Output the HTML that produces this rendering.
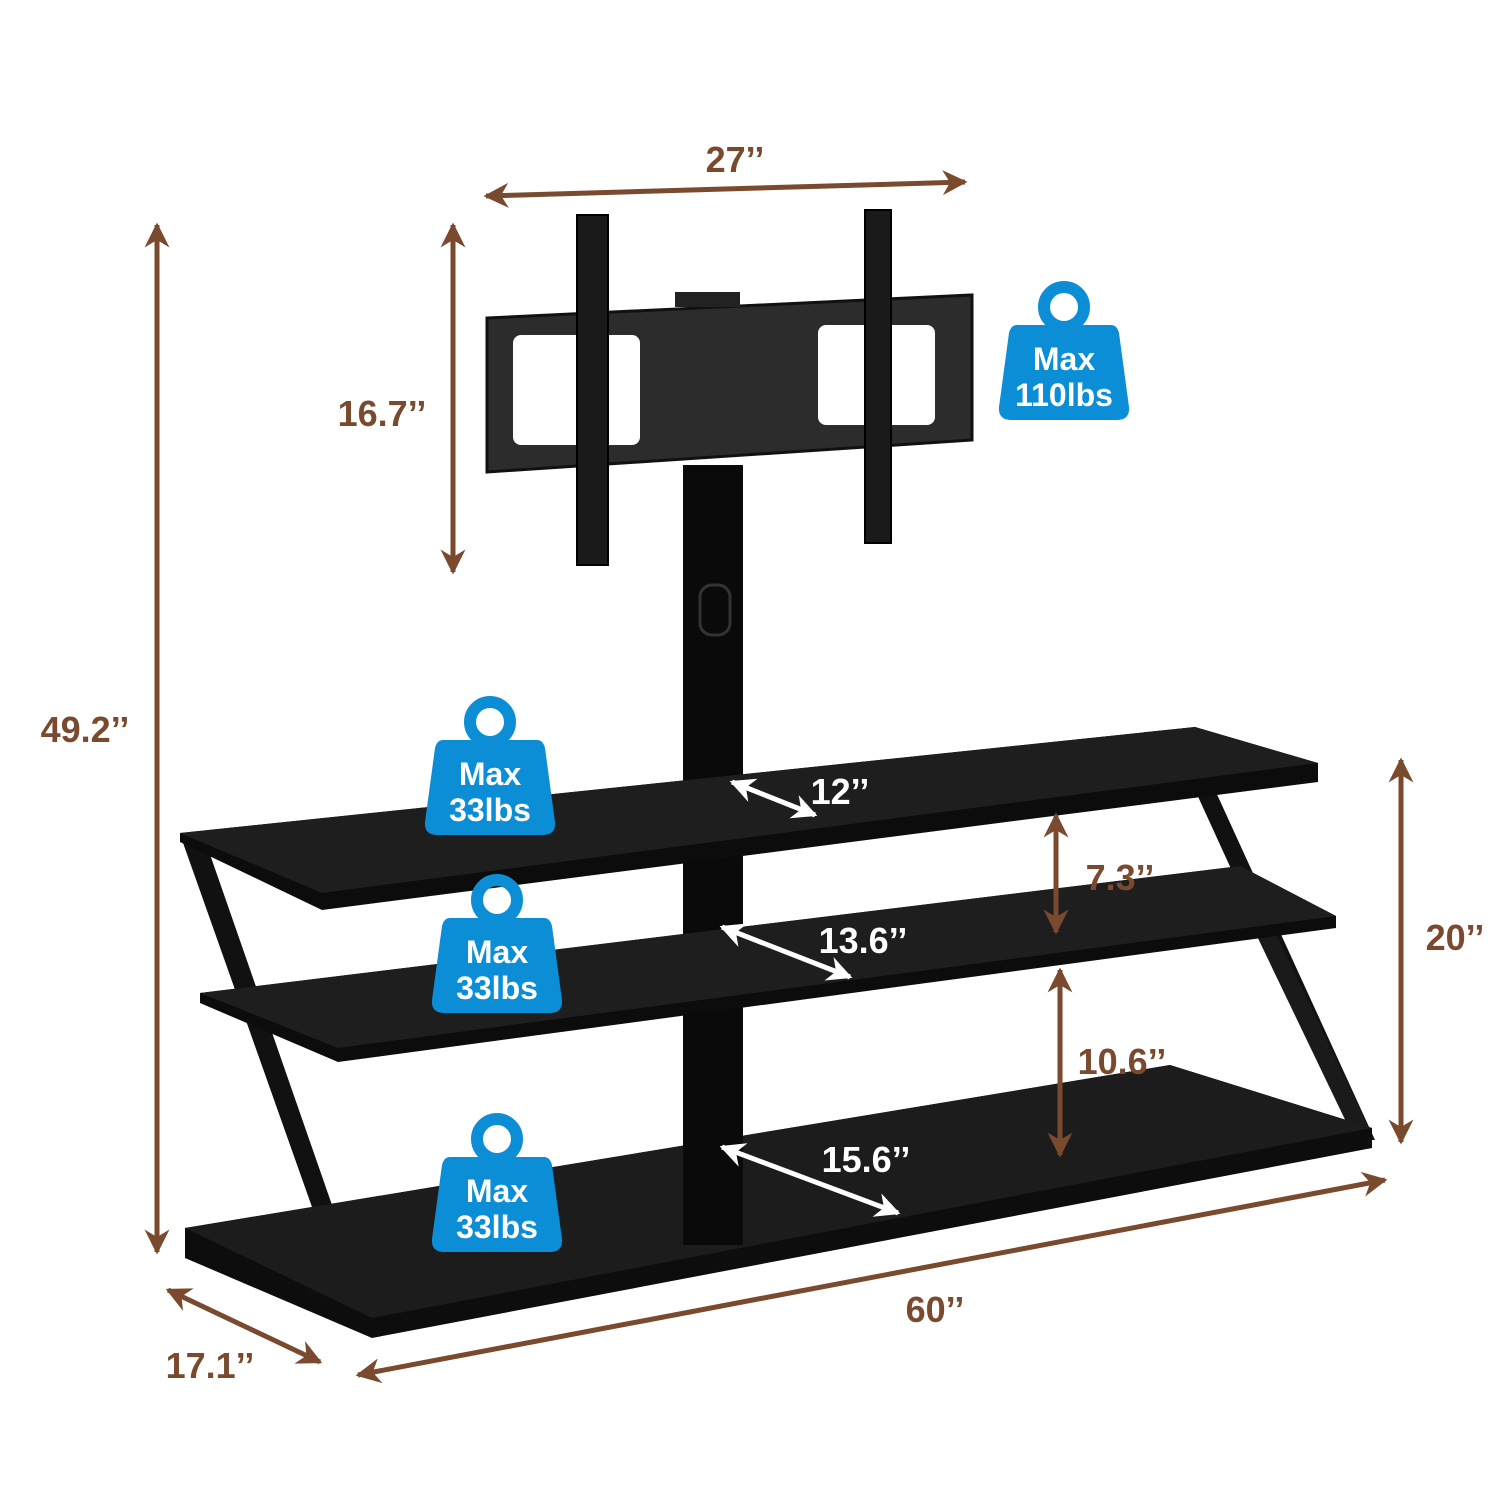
<!DOCTYPE html>
<html><head><meta charset="utf-8"><style>
html,body{margin:0;padding:0;background:#fff;}
svg{display:block}
text{font-family:"Liberation Sans",sans-serif;font-weight:bold;}
</style></head><body>
<svg width="1500" height="1500" viewBox="0 0 1500 1500" xmlns="http://www.w3.org/2000/svg">
<defs>
<marker id="ah" viewBox="0 0 10 10" refX="9" refY="5" markerWidth="5" markerHeight="5" orient="auto-start-reverse">
<path d="M0,0 L10,5 L0,10 L3,5 z" fill="#7a4a2e"/></marker>
<marker id="wh" viewBox="0 0 10 10" refX="9" refY="5" markerWidth="5" markerHeight="5" orient="auto-start-reverse">
<path d="M0,0 L10,5 L0,10 L3,5 z" fill="#fff"/></marker>
<g id="wt">
<circle cx="65" cy="22" r="20" fill="none" stroke="#0b8ed6" stroke-width="12"/>
<path d="M18,40 L112,40 Q118,40 120,48 L130,122 Q131,135 118,135 L12,135 Q-1,135 0,122 L10,48 Q12,40 18,40 z" fill="#0b8ed6"/>
</g>
</defs>

<!-- Z frame legs -->
<polygon points="182,840 205,840 372,1320 352,1320" fill="#111"/>
<polygon points="1195,790 1215,790 1375,1140 1355,1140" fill="#111"/>
<polygon points="1230,880 1250,880 1370,1130 1350,1130" fill="#1a1a1a"/>

<!-- bottom shelf -->
<polygon points="185,1228 1170,1065 1372,1128 1372,1148 372,1338 185,1258" fill="#0d0d0d"/>
<polygon points="185,1228 1170,1065 1372,1128 372,1318" fill="#1c1c1c"/>
<!-- pole -->
<rect x="683" y="465" width="60" height="780" fill="#0a0a0a"/>
<rect x="700" y="585" width="30" height="50" rx="12" fill="none" stroke="#333" stroke-width="3"/>
<!-- middle shelf -->
<polygon points="200,993 1240,866 1336,916 1336,928 338,1062 200,1003" fill="#0c0c0c"/>
<polygon points="200,993 1240,866 1336,916 338,1048" fill="#1e1e1e"/>
<!-- top shelf -->
<polygon points="180,833 1195,727 1318,763 1318,782 322,910 180,842" fill="#0c0c0c"/>
<polygon points="180,833 1195,727 1318,763 322,893" fill="#1e1e1e"/>

<!-- TV mount -->
<polygon points="487,318 972,295 972,440 487,472" fill="#2c2c2c" stroke="#111" stroke-width="3"/>
<rect x="675" y="292" width="65" height="15" fill="#222"/>
<rect x="513" y="335" width="127" height="110" rx="8" fill="#fff"/>
<rect x="818" y="325" width="117" height="100" rx="8" fill="#fff"/>
<rect x="577" y="215" width="31" height="350" fill="#1a1a1a" stroke="#000" stroke-width="2"/>
<rect x="865" y="210" width="26" height="333" fill="#1a1a1a" stroke="#000" stroke-width="2"/>

<!-- dimension arrows -->
<g stroke="#7a4a2e" stroke-width="5" fill="none">
<line x1="486" y1="196" x2="965" y2="182" marker-start="url(#ah)" marker-end="url(#ah)"/>
<line x1="157" y1="225" x2="157" y2="1252" marker-start="url(#ah)" marker-end="url(#ah)"/>
<line x1="453" y1="225" x2="453" y2="572" marker-start="url(#ah)" marker-end="url(#ah)"/>
<line x1="1401" y1="760" x2="1401" y2="1142" marker-start="url(#ah)" marker-end="url(#ah)"/>
<line x1="1056" y1="815" x2="1056" y2="932" marker-start="url(#ah)" marker-end="url(#ah)"/>
<line x1="1060" y1="970" x2="1060" y2="1155" marker-start="url(#ah)" marker-end="url(#ah)"/>
<line x1="168" y1="1290" x2="320" y2="1362" marker-start="url(#ah)" marker-end="url(#ah)"/>
<line x1="358" y1="1375" x2="1385" y2="1180" marker-start="url(#ah)" marker-end="url(#ah)"/>
</g>
<g stroke="#fff" stroke-width="5">
<line x1="732" y1="782" x2="815" y2="815" marker-start="url(#wh)" marker-end="url(#wh)"/>
<line x1="722" y1="927" x2="850" y2="977" marker-start="url(#wh)" marker-end="url(#wh)"/>
<line x1="722" y1="1147" x2="898" y2="1213" marker-start="url(#wh)" marker-end="url(#wh)"/>
</g>

<g fill="#7a4a2e" font-size="36">
<text x="735" y="172" text-anchor="middle">27’’</text>
<text x="85" y="742" text-anchor="middle">49.2’’</text>
<text x="382" y="426" text-anchor="middle">16.7’’</text>
<text x="1455" y="950" text-anchor="middle">20’’</text>
<text x="1120" y="890" text-anchor="middle">7.3’’</text>
<text x="1122" y="1074" text-anchor="middle">10.6’’</text>
<text x="935" y="1322" text-anchor="middle">60’’</text>
<text x="210" y="1378" text-anchor="middle">17.1’’</text>
</g>
<g fill="#fff" font-size="36">
<text x="840" y="804" text-anchor="middle">12’’</text>
<text x="863" y="953" text-anchor="middle">13.6’’</text>
<text x="866" y="1172" text-anchor="middle">15.6’’</text>
</g>

<!-- weight badges -->
<use href="#wt" x="999" y="285"/>
<use href="#wt" x="425" y="700"/>
<use href="#wt" x="432" y="878"/>
<use href="#wt" x="432" y="1117"/>
<g fill="#fff" font-size="32" text-anchor="middle">
<text x="1064" y="370">Max</text><text x="1064" y="406">110lbs</text>
<text x="490" y="785">Max</text><text x="490" y="821">33lbs</text>
<text x="497" y="963">Max</text><text x="497" y="999">33lbs</text>
<text x="497" y="1202">Max</text><text x="497" y="1238">33lbs</text>
</g>
</svg>
</body></html>
